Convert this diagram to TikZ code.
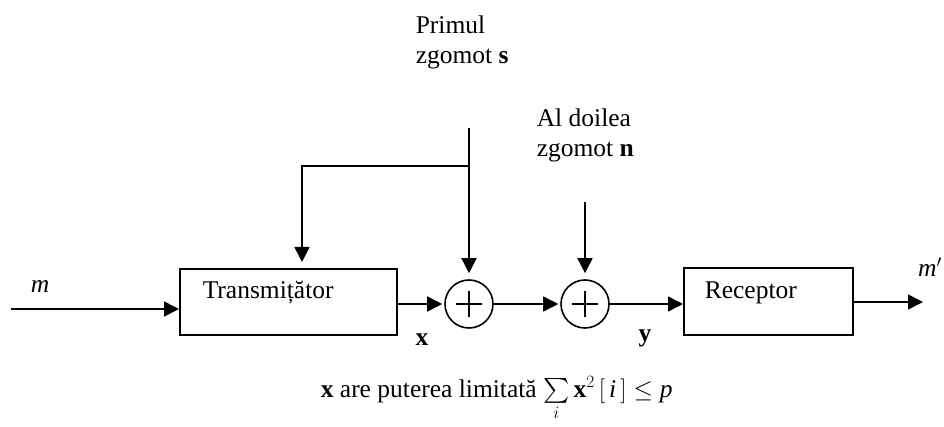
\documentclass[tikz,border=0pt]{standalone}
\usepackage{fontspec}
\usepackage{exscale}
\setmainfont{Liberation Serif}
\usetikzlibrary{arrows.meta}
\begin{document}
\begin{tikzpicture}[x=1pt,y=-1pt,
  line width=1.6pt,
  every node/.style={font=\fontsize{25.5}{30}\selectfont, inner sep=0pt},
  blk/.style={draw, rectangle, line width=1.6pt},
  sumnode/.style={draw, circle, minimum size=48pt, line width=1.6pt},
  arr/.style={-{Triangle[length=15pt,width=15pt]}}]
\useasboundingbox (0,0) rectangle (944,427);

% blocks
\node[blk, minimum width=217pt, minimum height=66pt, anchor=north west] (tx) at (179,268) {};
\node[anchor=west] (txt) at (202,293) {Transmițător};
\node[blk, minimum width=169pt, minimum height=67pt, anchor=north west] (rx) at (683,267) {};
\node[anchor=west] (rxt) at (704,293) {Receptor};

% summing junctions
\node[sumnode] (s1) at (469,304) {};
\node[sumnode] (s2) at (585,304) {};
\foreach \s in {s1,s2}{
  \draw (\s.center) ++(-13,0) -- ++(26,0);
  \draw (\s.center) ++(0,-13) -- ++(0,26);
}

% coordinates
\coordinate (min) at (11,309);
\coordinate (out) at (923,302);
\coordinate (ns) at (469,128);
\coordinate (fbl) at (302,166);
\coordinate (nn) at (585,202);

% connectors
\draw[arr] (min) -- (min -| tx.west);
\draw[arr, shorten >=2pt] (s1.west -| tx.east) -- (s1.west);
\draw[arr, shorten >=2pt] (s1.east) -- (s2.west);
\draw[arr] (s2.east) -- (s2.east -| rx.west);
\draw[arr] (rx.east |- out) -- (out);
\draw[arr, shorten >=6pt] (ns) -- (s1.north);
\draw[arr, shorten >=6pt] (ns |- fbl) -- (fbl) -- (fbl |- tx.north);
\draw[arr, shorten >=6pt] (nn) -- (s2.north);

% labels
\node (mlbl) at (40,286) {\textit{m}};
\node (mplbl) at (930,267) {\textit{m}$'$};
\node (xlbl) at (422,340) {\textbf{x}};
\node (ylbl) at (645,338) {\textbf{y}};
\node[align=left, anchor=west] (slbl) at (415,42) {Primul\\zgomot \textbf{s}};
\node[align=left, anchor=west] (nlbl) at (536,135) {Al doilea\\zgomot \textbf{n}};
\node[anchor=base west] (cons) at (320,397) {\textbf{x} are puterea limitată $\sum\limits_{i}\mbox{\textbf{x}}^{2}\,[\,\mbox{\textit{i}}\,]\le \mbox{\textit{p}}$};
\end{tikzpicture}
\end{document}
